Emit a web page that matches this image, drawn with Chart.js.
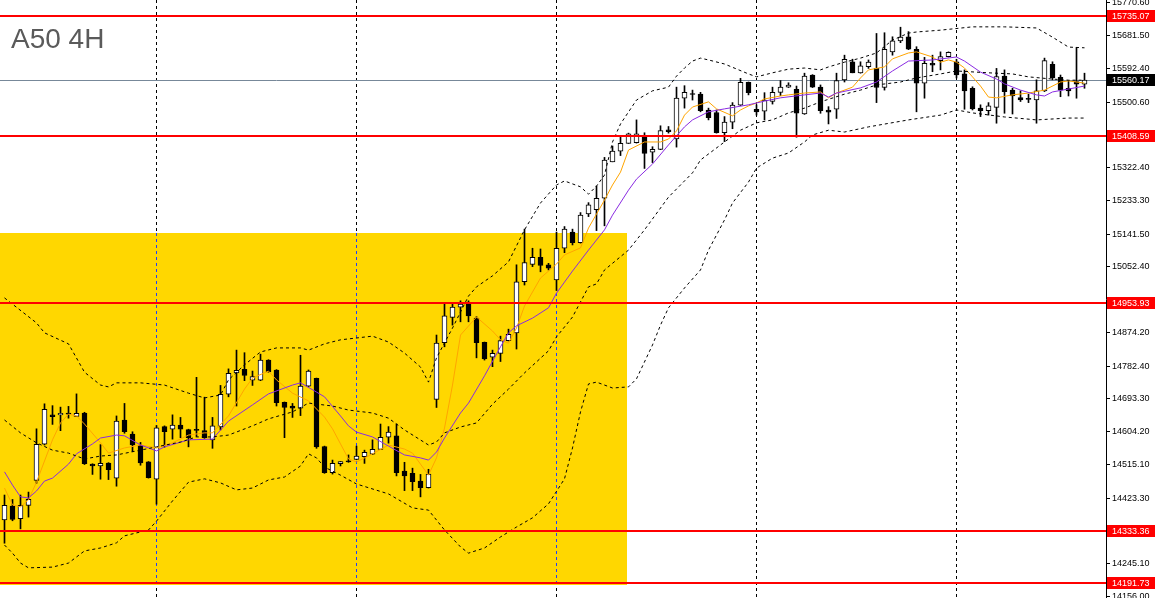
<!DOCTYPE html>
<html>
<head>
<meta charset="utf-8">
<title>A50 4H</title>
<script src="https://cdn.jsdelivr.net/npm/chart.js@4.4.1/dist/chart.umd.min.js"></script>
<style>
  html, body { margin: 0; padding: 0; background: #fff; }
  #wrap { position: relative; width: 1158px; height: 598px; overflow: hidden; }
  #title {
    position: absolute; left: 11px; top: 25px;
    font: 28px/28px "Liberation Sans", Arial, sans-serif;
    color: #5a5a5a; white-space: nowrap;
  }
</style>
</head>
<body>
<div id="wrap">
  <canvas id="chart" width="1158" height="598"></canvas>
  <div id="title">A50 4H</div>
</div>
<script>
// candles, one per 4h bar (index 0 = leftmost)
const opens = [14364,14402,14368,14404,14472,14570,14650,14650,14655,14646,14655,14516,14511,14519,14478,14636,14598,14567,14522,14475,
  14618,14611,14622,14610,14609,14607,14582,14617,14706,14764,14774,14744,14744,14799,14772,14684,14674,14668,14728,14749,
  14564,14493,14517,14525,14529,14536,14543,14556,14589,14593,14497,14491,14470,14452,14692,14846,14915,14943,14951,14913,
  14847,14807,14817,14852,14873,15012,15059,15078,15058,15017,15103,15147,15118,15196,15208,15239,15338,15367,15388,15390,
  15408,15364,15372,15425,15400,15511,15523,15522,15479,15472,15417,15446,15492,15554,15481,15476,15502,15527,15541,15535,
  15468,15574,15541,15479,15481,15561,15610,15580,15597,15592,15540,15637,15667,15678,15644,15552,15606,15613,15624,15610,
  15577,15538,15484,15477,15486,15571,15533,15513,15510,15506,15531,15603,15568,15538,15556,15549];
const highs = [14432,14420,14432,14440,14612,14680,14675,14671,14673,14707,14657,14517,14569,14520,14647,14681,14604,14575,14523,14621,
  14620,14650,14643,14611,14752,14698,14643,14730,14775,14826,14819,14769,14815,14800,14773,14685,14681,14812,14772,14750,
  14565,14527,14523,14541,14565,14554,14582,14625,14618,14625,14521,14505,14488,14502,14867,14955,14955,14960,14960,14917,
  14848,14826,14864,14883,15058,15155,15103,15101,15062,15147,15162,15155,15200,15227,15272,15350,15381,15406,15416,15452,
  15417,15379,15436,15434,15541,15545,15533,15527,15484,15479,15461,15499,15565,15555,15493,15526,15541,15559,15553,15544,
  15579,15575,15547,15488,15579,15628,15617,15610,15615,15687,15689,15678,15704,15692,15651,15622,15628,15637,15637,15617,
  15588,15542,15493,15499,15592,15588,15538,15531,15522,15561,15620,15610,15574,15559,15649,15579];
const lows = [14301,14362,14340,14372,14464,14568,14624,14607,14641,14646,14515,14488,14475,14474,14456,14600,14550,14513,14478,14407,
  14562,14584,14588,14563,14591,14586,14559,14609,14699,14674,14743,14730,14743,14766,14674,14588,14643,14648,14727,14559,
  14491,14489,14511,14521,14528,14518,14542,14556,14573,14484,14444,14444,14427,14451,14670,14835,14894,14903,14903,14805,
  14799,14781,14795,14851,14829,15003,15053,15039,15044,14988,15091,15112,15117,15189,15151,15164,15338,15355,15388,15389,
  15320,15336,15371,15416,15378,15484,15506,15474,15452,15416,15393,15428,15491,15520,15465,15452,15495,15518,15540,15405,
  15467,15540,15470,15441,15456,15555,15580,15579,15592,15499,15533,15628,15662,15643,15474,15511,15583,15588,15623,15566,
  15481,15479,15461,15465,15443,15470,15468,15502,15499,15443,15529,15561,15515,15517,15511,15538];
const closes = [14404,14366,14404,14420,14570,14665,14645,14654,14652,14654,14517,14511,14518,14501,14633,14604,14568,14519,14479,14615,
  14604,14622,14611,14588,14608,14588,14620,14706,14763,14771,14757,14754,14799,14767,14683,14670,14668,14728,14769,14563,
  14493,14518,14523,14522,14538,14548,14556,14589,14603,14493,14484,14468,14452,14489,14845,14919,14943,14951,14919,14846,
  14802,14817,14852,14869,15012,15064,15078,15056,15049,15103,15155,15118,15193,15221,15239,15343,15367,15388,15414,15414,
  15361,15372,15423,15420,15511,15527,15521,15477,15458,15417,15446,15492,15554,15526,15474,15506,15527,15541,15547,15470,
  15571,15541,15477,15473,15559,15617,15580,15599,15609,15540,15644,15667,15677,15644,15552,15606,15601,15624,15636,15574,
  15531,15482,15477,15490,15570,15529,15517,15506,15508,15531,15613,15567,15533,15531,15549,15560.17];

// indicator lines, read at the listed bar indices
const orangeIdx = [0,1,2,3,4,6,7,8,9,10,12,13,15,17,19,21,23,25,26,28,30,31,33,34,36,38,40,41,42,43,44,46,48,50,51,53,54,55,56,57,
  59,61,62,63,64,65,67,69,70,72,73,75,76,77,78,80,82,83,84,85,86,88,89,91,92,93,94,95,97,98,100,102,103,104,106,107,108,110,111,113,
  114,116,117,118,119,120,121,122,123,124,126,128,130,132,133,135];
const orangeMa = [14451,14405,14400,14419,14467,14582,14628,14652,14647,14625,14574,14546,14560,14568,14560,14574,14595,14601,14601,14647,
  14720,14750,14769,14745,14709,14688,14644,14612,14571,14530,14522,14544,14568,14557,14546,14486,14533,14614,14731,14867,
  14916,14878,14854,14845,14886,14946,15022,15060,15085,15104,15158,15234,15275,15310,15370,15392,15392,15400,15422,15465,
  15487,15501,15482,15463,15479,15490,15498,15509,15517,15520,15525,15528,15512,15525,15541,15566,15588,15596,15618,15634,
  15637,15623,15609,15615,15609,15593,15569,15544,15514,15512,15520,15525,15533,15555,15558,15552];

const purpleIdx = [0,1,2,3,4,5,6,8,9,11,12,14,15,17,19,20,23,26,28,31,33,36,37,39,40,42,43,44,46,48,50,52,53,54,55,57,58,60,62,63,
  64,66,68,69,71,73,75,76,78,79,81,83,85,86,88,90,93,95,97,100,102,103,104,107,109,111,113,116,119,120,122,124,125,127,129,130,131,133,135];
const purpleMa = [14495,14459,14427,14424,14443,14470,14478,14516,14544,14571,14587,14595,14593,14568,14552,14563,14582,14584,14633,14677,
  14707,14731,14737,14712,14699,14647,14620,14603,14590,14565,14541,14533,14527,14549,14587,14655,14682,14756,14835,14873,
  14892,14913,14941,14981,15041,15098,15153,15193,15261,15291,15332,15384,15433,15452,15474,15482,15493,15503,15512,15520,
  15525,15514,15525,15539,15555,15585,15612,15615,15623,15612,15582,15563,15550,15533,15520,15517,15528,15536,15544];

const upperIdx = [0,4,5,8,10,12,13,14,17,20,23,25,27,28,30,32,34,37,38,40,42,46,48,50,52,53,54,56,58,59,61,63,65,67,69,70,72,73,74,75,
  76,77,79,81,83,84,85,86,87,88,90,93,94,96,98,100,102,103,105,107,109,111,113,114,117,121,125,129,131,133,135];
const upperBand = [14968,14900,14873,14843,14766,14731,14726,14737,14737,14731,14709,14696,14704,14745,14786,14821,14832,14832,14826,14843,
  14854,14864,14848,14818,14780,14739,14805,14886,14973,14998,15028,15066,15153,15226,15275,15286,15270,15250,15272,15302,
  15392,15441,15506,15531,15541,15571,15593,15612,15620,15615,15604,15577,15569,15580,15590,15593,15588,15596,15609,15620,
  15634,15669,15688,15691,15696,15705,15705,15702,15677,15650,15648];

const middleIdx = [0,2,4,6,8,10,12,14,17,19,22,24,26,28,31,33,36,38,41,43,46,48,50,53,54,55,57,59,61,63,65,68,69,71,73,74,75,78,80,83,
  86,87,90,92,94,96,98,100,102,105,107,109,112,114,117,119,123,126,128,131,133,135];
const middleBand = [14636,14601,14574,14554,14546,14530,14538,14541,14554,14563,14576,14590,14590,14595,14620,14639,14658,14682,14674,14663,
  14655,14641,14609,14568,14576,14601,14617,14628,14679,14720,14764,14824,14862,14916,14998,15006,15044,15098,15153,15242,
  15308,15343,15392,15424,15444,15452,15471,15484,15501,15522,15533,15547,15555,15566,15577,15585,15580,15577,15569,15563,
  15560,15560];

const lowerIdx = [0,1,2,3,6,8,10,12,14,15,18,19,21,23,25,27,29,31,33,35,37,38,39,40,42,44,48,51,53,55,57,58,60,62,64,66,68,70,71,72,
  73,74,76,78,79,81,82,83,85,87,88,90,91,93,94,96,98,100,101,103,105,108,113,117,119,121,125,129,133,135];
const lowerBand = [14296,14274,14247,14234,14236,14247,14280,14288,14302,14321,14337,14361,14416,14467,14476,14465,14446,14451,14473,14481,
  14511,14544,14533,14508,14486,14462,14435,14397,14391,14337,14291,14274,14288,14318,14345,14370,14408,14476,14560,14658,
  14734,14739,14723,14726,14748,14840,14894,14941,14995,15044,15098,15180,15226,15283,15321,15348,15362,15392,15411,15424,
  15419,15433,15452,15465,15479,15471,15460,15452,15457,15457];

// price axis labels and drawn objects
const yTicks = [15770.60,15681.50,15592.40,15500.60,15322.40,15233.30,15141.50,15052.40,
  14874.20,14782.40,14693.30,14604.20,14515.10,14423.30,14245.10,14156.00];
const levels = [15735.07, 15408.59, 14953.93, 14333.36, 14191.73];
const bidPrice = 15560.17;
const gridIdx = [19, 44, 69, 94, 119];
// highlighted zone: bar range and price range
const zoneFrom = -1, zoneTo = 77.8;
const zoneTop = 15144.5, zoneBottom = 14187.4;

const pts = (idx, vals) => vals.map((v, k) => ({ x: idx[k], y: v }));
const bodies = opens.map((o, i) => ({ x: i, y: [o, closes[i]] }));
const wicks = lows.map((l, i) => ({ x: i, y: [l, highs[i]] }));
const bodyColors = opens.map((o, i) => closes[i] >= o ? '#ffffff' : '#000000');

const bandStyle = { type: 'line', borderColor: '#000', borderWidth: 1, borderDash: [3, 3],
  pointRadius: 0, tension: 0, fill: false, order: 0 };

const overlay = {
  id: 'overlay',
  beforeDraw(chart) {
    const { ctx, width, height } = chart;
    ctx.save();
    ctx.fillStyle = '#fff';
    ctx.fillRect(0, 0, width, height);
    ctx.restore();
  },
  beforeDatasetsDraw(chart) {
    const { ctx, chartArea: ca, scales: { x, y } } = chart;
    const left = Math.max(ca.left, x.getPixelForValue(zoneFrom));
    const right = Math.round(x.getPixelForValue(zoneTo));
    const top = Math.round(y.getPixelForValue(zoneTop));
    const bottom = Math.round(y.getPixelForValue(zoneBottom));
    ctx.save();
    ctx.fillStyle = '#ffd700';
    ctx.fillRect(left, top, right - left, bottom - top);
    // grid lines show blue on the yellow zone
    ctx.strokeStyle = '#1f3dff';
    ctx.lineWidth = 1;
    ctx.setLineDash([3, 3]);
    gridIdx.forEach(g => {
      const px = Math.floor(x.getPixelForValue(g)) + 0.5;
      if (px < left || px > right) return;
      ctx.beginPath();
      ctx.moveTo(px, top);
      ctx.lineTo(px, bottom);
      ctx.stroke();
    });
    ctx.setLineDash([]);
    // bid line
    const by = Math.floor(y.getPixelForValue(bidPrice)) + 0.5;
    ctx.strokeStyle = '#778899';
    ctx.beginPath();
    ctx.moveTo(ca.left, by);
    ctx.lineTo(ca.right, by);
    ctx.stroke();
    ctx.restore();
  },
  afterDatasetsDraw(chart) {
    const { ctx, chartArea: ca, scales: { y } } = chart;
    ctx.save();
    ctx.strokeStyle = '#ff0000';
    ctx.lineWidth = 2;
    levels.forEach(v => {
      const py = Math.round(y.getPixelForValue(v));
      ctx.beginPath();
      ctx.moveTo(ca.left, py);
      ctx.lineTo(ca.right, py);
      ctx.stroke();
    });
    ctx.restore();
  },
  afterDraw(chart) {
    const { ctx, chartArea: ca, scales: { y } } = chart;
    ctx.save();
    ctx.font = '9px "Liberation Sans", Arial, sans-serif';
    ctx.textBaseline = 'middle';
    const tag = (v, bg) => {
      const py = Math.round(y.getPixelForValue(v));
      ctx.fillStyle = bg;
      ctx.fillRect(ca.right + 1, py - 6, 48, 12);
      ctx.fillStyle = '#fff';
      ctx.fillText(v.toFixed(2), ca.right + 6, py + 0.5);
    };
    levels.forEach(v => tag(v, '#ff0000'));
    tag(bidPrice, '#000000');
    ctx.restore();
  }
};

Chart.defaults.font.family = '"Liberation Sans", Arial, sans-serif';

new Chart(document.getElementById('chart'), {
  type: 'bar',
  data: {
    datasets: [
      { ...bandStyle, data: pts(upperIdx, upperBand) },
      { ...bandStyle, data: pts(middleIdx, middleBand) },
      { ...bandStyle, data: pts(lowerIdx, lowerBand) },
      { type: 'line', data: pts(purpleIdx, purpleMa), borderColor: '#8a2be2', borderWidth: 1,
        pointRadius: 0, tension: 0, fill: false, order: 0 },
      { type: 'line', data: pts(orangeIdx, orangeMa), borderColor: '#ffa500', borderWidth: 1,
        pointRadius: 0, tension: 0, fill: false, order: 0 },
      { type: 'bar', data: bodies, backgroundColor: bodyColors, borderColor: '#000', borderWidth: 1,
        borderSkipped: false, grouped: false, barThickness: 5, maxBarThickness: 5, minBarLength: 1, order: 2 },
      { type: 'bar', data: wicks, backgroundColor: '#000', borderWidth: 0,
        grouped: false, barThickness: 1, maxBarThickness: 1, order: 3 }
    ]
  },
  options: {
    responsive: false,
    devicePixelRatio: 1,
    animation: false,
    events: [],
    layout: { padding: 0 },
    plugins: { legend: { display: false }, tooltip: { enabled: false }, title: { display: false } },
    scales: {
      x: {
        type: 'linear',
        min: -0.5625,
        max: 137.6875,
        offset: false,
        afterBuildTicks: s => { s.ticks = gridIdx.map(v => ({ value: v })); },
        afterFit: s => { s.height = 0; s.paddingLeft = 0; s.paddingRight = 0; },
        ticks: { display: false },
        grid: { offset: false, drawTicks: false, color: '#000', lineWidth: 1 },
        border: { display: false, dash: [3, 3] }
      },
      y: {
        position: 'right',
        min: 14152,
        max: 15778,
        afterBuildTicks: s => { s.ticks = yTicks.map(v => ({ value: v })); },
        afterFit: s => { s.width = 52; s.paddingTop = 0; s.paddingBottom = 0; },
        ticks: {
          autoSkip: false,
          padding: 2,
          color: '#000',
          font: { size: 9 },
          callback: v => Number(v).toFixed(2)
        },
        grid: { drawOnChartArea: false, drawTicks: true, tickLength: 4, color: '#000' },
        border: { display: true, color: '#000' }
      }
    }
  },
  plugins: [overlay]
});
</script>
</body>
</html>
